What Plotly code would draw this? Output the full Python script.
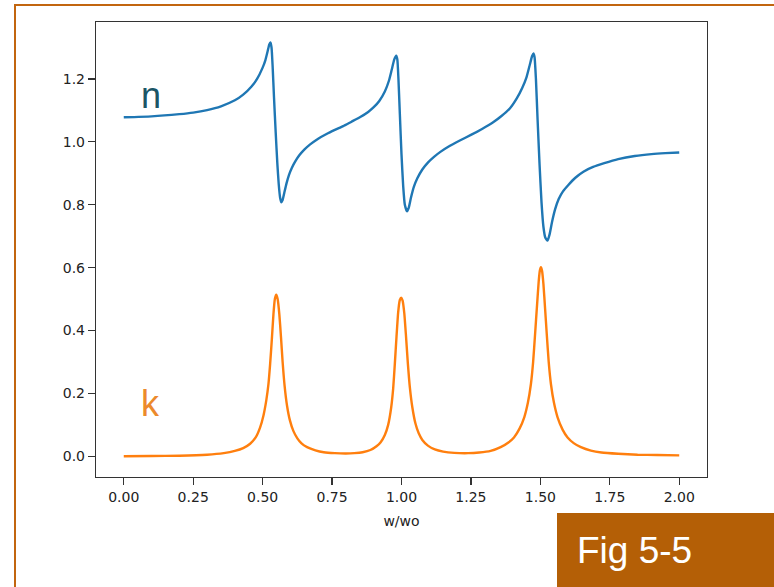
import plotly.graph_objects as go

# n (refractive index)
n_x = [0.00, 0.10, 0.20, 0.25, 0.30, 0.35, 0.40, 0.43, 0.46, 0.48, 0.50, 0.51, 0.518, 0.524, 0.528,
       0.532, 0.536, 0.541, 0.547, 0.553, 0.558, 0.563, 0.567, 0.572, 0.578, 0.586, 0.595, 0.605,
       0.617, 0.632, 0.65, 0.67, 0.70, 0.73, 0.76, 0.79, 0.82, 0.85, 0.88, 0.90, 0.92, 0.94,
       0.955, 0.965, 0.974, 0.981, 0.985, 0.989, 0.994, 1.000, 1.006, 1.012, 1.020, 1.026,
       1.034, 1.045, 1.057, 1.075, 1.095, 1.117, 1.14, 1.17, 1.21, 1.25, 1.29, 1.33, 1.36,
       1.39, 1.415, 1.435, 1.45, 1.462, 1.470, 1.475, 1.479, 1.484, 1.490, 1.497, 1.504,
       1.511, 1.518, 1.526, 1.533, 1.542, 1.553, 1.566, 1.582, 1.60, 1.625, 1.655, 1.69,
       1.73, 1.78, 1.84, 1.90, 1.95, 2.00]
n_y = [1.078, 1.081, 1.088, 1.093, 1.101, 1.113, 1.132, 1.150, 1.176, 1.200, 1.236, 1.260, 1.288, 1.310, 1.316,
       1.300, 1.240, 1.140, 1.030, 0.930, 0.865, 0.822, 0.808, 0.815, 0.838, 0.868, 0.895, 0.917,
       0.937, 0.957, 0.975, 0.991, 1.010, 1.025, 1.038, 1.050, 1.064, 1.078, 1.095, 1.110, 1.130, 1.160,
       1.195, 1.230, 1.262, 1.274, 1.262, 1.200, 1.090, 0.960, 0.860, 0.800, 0.779, 0.790,
       0.822, 0.858, 0.884, 0.912, 0.934, 0.952, 0.968, 0.985, 1.004, 1.022, 1.041, 1.062, 1.082,
       1.106, 1.138, 1.172, 1.205, 1.245, 1.272, 1.281, 1.270, 1.200, 1.070, 0.930, 0.810,
       0.730, 0.695, 0.686, 0.705, 0.745, 0.785, 0.818, 0.843, 0.862, 0.885, 0.905, 0.920,
       0.932, 0.945, 0.955, 0.961, 0.964, 0.966]

# k (extinction coefficient)
k_x = [0.00, 0.10, 0.20, 0.30, 0.36, 0.40, 0.43, 0.455, 0.475, 0.491, 0.503, 0.513, 0.521, 0.527,
       0.533, 0.539, 0.544, 0.549, 0.554, 0.560, 0.566, 0.572, 0.579, 0.588, 0.598, 0.611, 0.625,
       0.640, 0.660, 0.69, 0.72, 0.76, 0.80, 0.83, 0.86, 0.888, 0.91, 0.925, 0.940, 0.952, 0.963,
       0.970, 0.976, 0.982, 0.988, 0.994, 0.999, 1.004, 1.010, 1.016, 1.023, 1.030, 1.039, 1.050,
       1.062, 1.075, 1.095, 1.12, 1.15, 1.19, 1.24, 1.28, 1.321, 1.357, 1.385, 1.405, 1.425, 1.442,
       1.455, 1.466, 1.474, 1.481, 1.488, 1.494, 1.498, 1.502, 1.506, 1.511, 1.517, 1.523, 1.530,
       1.538, 1.549, 1.562, 1.580, 1.598, 1.62, 1.646, 1.682, 1.72, 1.78, 1.85, 1.92, 2.00]
k_y = [0.000, 0.001, 0.002, 0.005, 0.010, 0.017, 0.026, 0.040, 0.060, 0.092, 0.130, 0.177, 0.230, 0.294,
       0.370, 0.453, 0.500, 0.514, 0.500, 0.453, 0.380, 0.300, 0.225, 0.160, 0.115, 0.080, 0.057,
       0.041, 0.029, 0.019, 0.013, 0.010, 0.009, 0.010, 0.013, 0.020, 0.032, 0.045, 0.068, 0.100, 0.156,
       0.215, 0.294, 0.380, 0.458, 0.497, 0.504, 0.495, 0.455, 0.385, 0.294, 0.220, 0.156, 0.105,
       0.073, 0.052, 0.034, 0.022, 0.015, 0.011, 0.010, 0.012, 0.017, 0.029, 0.044, 0.060, 0.088, 0.124,
       0.170, 0.230, 0.300, 0.389, 0.480, 0.556, 0.590, 0.601, 0.590, 0.548, 0.470, 0.389, 0.300,
       0.230, 0.170, 0.124, 0.085, 0.060, 0.042, 0.029, 0.018, 0.012, 0.008, 0.005, 0.004, 0.003]

x_ticks = [0.00, 0.25, 0.50, 0.75, 1.00, 1.25, 1.50, 1.75, 2.00]
x_tick_text = ["0.00", "0.25", "0.50", "0.75", "1.00", "1.25", "1.50", "1.75", "2.00"]
y_ticks = [0.0, 0.2, 0.4, 0.6, 0.8, 1.0, 1.2]
y_tick_text = ["0.0", "0.2", "0.4", "0.6", "0.8", "1.0", "1.2"]

W, H = 774, 587
L, R, T, B = 96, 707, 22, 477


def px(xp):
    return (xp - L) / (R - L)


def py(yp):
    return (B - yp) / (B - T)


fig = go.Figure()
fig.add_trace(go.Scatter(x=n_x, y=n_y, mode="lines", name="n",
                         line=dict(color="#1f77b4", width=2.4, shape="spline", smoothing=0.5)))
fig.add_trace(go.Scatter(x=k_x, y=k_y, mode="lines", name="k",
                         line=dict(color="#ff7f0e", width=2.4, shape="spline", smoothing=0.5)))

axis_common = dict(showgrid=False, zeroline=False, showline=True, linecolor="#333333",
                   linewidth=1.2, mirror=True, ticks="outside", ticklen=7, tickwidth=1.2,
                   tickcolor="#333333",
                   tickfont=dict(family="DejaVu Sans", size=14, color="#222222"))

fig.update_xaxes(range=[-0.1, 2.1], tickvals=x_ticks, ticktext=x_tick_text,
                 title=dict(text="w/wo", font=dict(family="DejaVu Sans", size=14, color="#222222"),
                            standoff=12),
                 **axis_common)
fig.update_yaxes(range=[-0.0658, 1.381], tickvals=y_ticks, ticktext=y_tick_text, **axis_common)

shapes = [
    # orange frame (left and top)
    dict(type="line", xref="paper", yref="paper", x0=px(15), x1=px(15), y0=py(4), y1=py(590),
         line=dict(color="#C2650F", width=2)),
    dict(type="line", xref="paper", yref="paper", x0=px(14), x1=px(780), y0=py(5), y1=py(5),
         line=dict(color="#C2650F", width=2)),
    # Fig box
    dict(type="rect", xref="paper", yref="paper", x0=px(557), x1=px(780), y0=py(590), y1=py(513),
         fillcolor="#B45F06", line=dict(width=0)),
]

annotations = [
    dict(text="n", x=0.097, y=1.147, xref="x", yref="y", showarrow=False,
         font=dict(family="Liberation Sans", size=36, color="#1B5566"), xanchor="center", yanchor="middle"),
    dict(text="k", x=0.097, y=0.168, xref="x", yref="y", showarrow=False,
         font=dict(family="Liberation Sans", size=36, color="#EC8A2C"), xanchor="center", yanchor="middle"),
    dict(text="Fig 5-5", x=px(575), y=py(550), xref="paper", yref="paper", showarrow=False,
         font=dict(family="Liberation Sans", size=37, color="white"), xanchor="left", yanchor="middle"),
]

fig.update_layout(width=W, height=H, margin=dict(l=L, r=W - R, t=T, b=H - B),
                  paper_bgcolor="white", plot_bgcolor="white", showlegend=False,
                  shapes=shapes, annotations=annotations)

fig.write_html("out.html", config={"displayModeBar": False, "staticPlot": True},
               post_script="document.body.style.margin='0px';document.body.style.overflow='hidden';")
